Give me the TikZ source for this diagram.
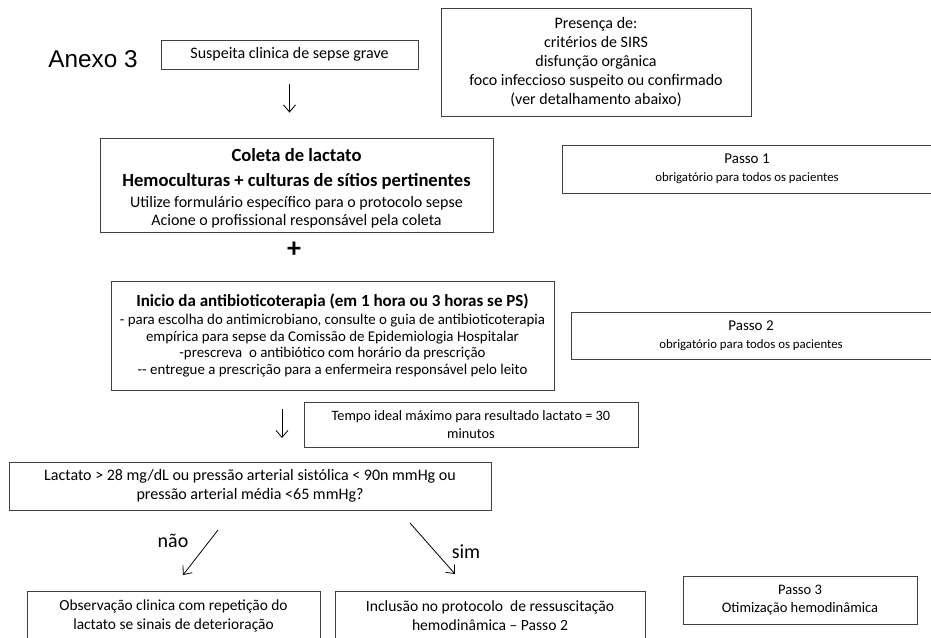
\documentclass[tikz,border=0pt]{standalone}
\usepackage{fontspec}
\setmainfont{Carlito}
\newfontfamily\arialfont{Liberation Sans}
\usetikzlibrary{arrows.meta}
\tikzset{
  box/.style={draw=black!75, line width=0.9pt, inner sep=0pt, align=center, anchor=center},
  arr/.style={draw=black, line width=0.8pt, -{Straight Barb[length=7pt,width=12pt]}},
}
\begin{document}
\begin{tikzpicture}[x=1pt,y=-1pt]
\useasboundingbox (0,0) rectangle (931,637);
\clip (0,0) rectangle (931,637);

\node[font=\arialfont\fontsize{24.3}{30}\selectfont] (anexo) at (93,59) {Anexo 3};

\node[box, font=\fontsize{16}{19}\selectfont, minimum width=257pt, minimum height=29pt] (sus) at (289.5,54.5) {Suspeita clinica de sepse grave};

\node[box, font=\fontsize{16}{19}\selectfont, minimum width=310pt, minimum height=108pt] (pres) at (596,62) {Presença de:\\critérios de SIRS\\disfunção orgânica\\foco infeccioso suspeito ou confirmado\\(ver detalhamento abaixo)};

\node[box, font=\fontsize{16}{18}\selectfont, minimum width=393pt, minimum height=94pt] (col) at (296.5,185) {{\bfseries\fontsize{18.6}{18}\selectfont\rule{0pt}{20pt}Coleta de lactato}\\[7pt]{\bfseries\fontsize{18.6}{18}\selectfont Hemoculturas + culturas de sítios pertinentes}\\[3pt]Utilize formulário específico para o protocolo sepse\\Acione o profissional responsável pela coleta};

\node[box, font=\fontsize{12.8}{18}\selectfont, minimum width=370pt, minimum height=48pt] (p1) at (747,169) {{\fontsize{15}{18}\selectfont Passo 1}\\obrigatório para todos os pacientes};

\node[font=\bfseries\fontsize{28}{30}\selectfont] (plus) at (294,250) {+};

\node[box, font=\fontsize{14.9}{16.6}\selectfont, minimum width=443pt, minimum height=109pt] (ant) at (332.5,335.5) {{\bfseries\fontsize{17}{17}\selectfont Inicio da antibioticoterapia (em 1 hora ou 3 horas se PS)}\\[1pt]- para escolha do antimicrobiano, consulte o guia de antibioticoterapia\\empírica para sepse da Comissão de Epidemiologia Hospitalar\\-prescreva\ \ o antibiótico com horário da prescrição\\-{}- entregue a prescrição para a enfermeira responsável pelo leito};

\node[box, font=\fontsize{12.8}{18}\selectfont, minimum width=360pt, minimum height=47pt] (p2) at (751,335.5) {{\fontsize{15}{18}\selectfont Passo 2}\\obrigatório para todos os pacientes};

\node[box, font=\fontsize{14.3}{18}\selectfont, minimum width=334pt, minimum height=45pt] (tempo) at (471,424.5) {Tempo ideal máximo para resultado lactato = 30\\minutos};

\node[box, font=\fontsize{16}{18.5}\selectfont, minimum width=482pt, minimum height=48pt] (lac) at (250,486) {Lactato > 28 mg/dL ou pressão arterial sistólica < 90n mmHg ou\\pressão arterial média <65 mmHg?};

\node[box, font=\fontsize{15.4}{19}\selectfont, minimum width=293pt, minimum height=49pt] (obs) at (173.5,615.5) {Observação clinica com repetição do\\lactato se sinais de deterioração};

\node[box, font=\fontsize{15.6}{19}\selectfont, minimum width=310pt, minimum height=49pt] (inc) at (490,615.5) {Inclusão no protocolo\ \ de ressuscitação\\hemodinâmica – Passo 2};

\node[box, font=\fontsize{14.5}{18}\selectfont, minimum width=234pt, minimum height=48pt] (p3) at (800,600) {Passo 3\\Otimização hemodinâmica};

\node[font=\fontsize{20}{24}\selectfont] (nao) at (173,541) {não};
\node[font=\fontsize{20}{24}\selectfont] (sim) at (466,552) {sim};

\draw[arr, shorten <=15pt, shorten >=25pt] (sus.south) -- (sus.south |- col.north);

\coordinate (a2s) at (282,409);
\coordinate (a2e) at (282,438);
\draw[arr] (a2s) -- (a2e);

\coordinate (naos) at (218,530);
\coordinate (naoe) at (183,575);
\draw[arr] (naos) -- (naoe);

\coordinate (sims) at (410,523);
\coordinate (sime) at (455,574);
\draw[arr] (sims) -- (sime);
\end{tikzpicture}
\end{document}
